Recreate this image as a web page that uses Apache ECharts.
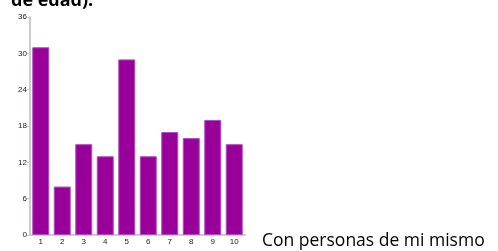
<!DOCTYPE html>
<html>
<head>
<meta charset="utf-8">
<script src="https://cdn.jsdelivr.net/npm/echarts@6/dist/echarts.min.js"></script>
<style>
  html, body { margin: 0; padding: 0; background: #fff; }
  #chart { width: 498px; height: 251px; }
</style>
</head>
<body>
<div id="chart"></div>
<script>
// datos
var categorias = ['1', '2', '3', '4', '5', '6', '7', '8', '9', '10'];
var valores = [31, 8, 15, 13, 29, 13, 17, 16, 19, 15];
var titulo = 'de edad).';
var pie = 'Con personas de mi mismo';

var chart = echarts.init(document.getElementById('chart'));

chart.setOption({
    animation: false,
    graphic: [
        {
            type: 'text', left: 11, top: -8,
            style: { text: titulo, font: 'bold 18px "Open Sans", sans-serif', fill: '#000' }
        },
        {
            type: 'text', left: 262, top: 232,
            style: { text: pie, font: '17.5px "Open Sans", sans-serif', fill: '#000' }
        }
    ],
    grid: { left: 30, right: 253, top: 17, bottom: 16 },
    xAxis: {
        type: 'category',
        data: categorias,
        axisLine: { lineStyle: { color: '#ccc', width: 2 } },
        axisTick: { show: false },
        axisLabel: { color: '#222', fontSize: 8, margin: 3, fontFamily: 'Liberation Sans' }
    },
    yAxis: {
        type: 'value',
        min: 0, max: 36, interval: 6,
        axisLine: { show: true, lineStyle: { color: '#ccc', width: 2 } },
        axisTick: { show: true, length: 3, lineStyle: { color: '#ccc' } },
        splitLine: { show: false },
        axisLabel: { color: '#222', fontSize: 8, margin: 3, fontFamily: 'Liberation Sans' }
    },
    series: [{
        type: 'bar',
        data: valores,
        barWidth: 17,
        itemStyle: { color: '#990099', borderColor: '#b04cc0', borderWidth: 1 }
    }]
});
</script>
</body>
</html>
